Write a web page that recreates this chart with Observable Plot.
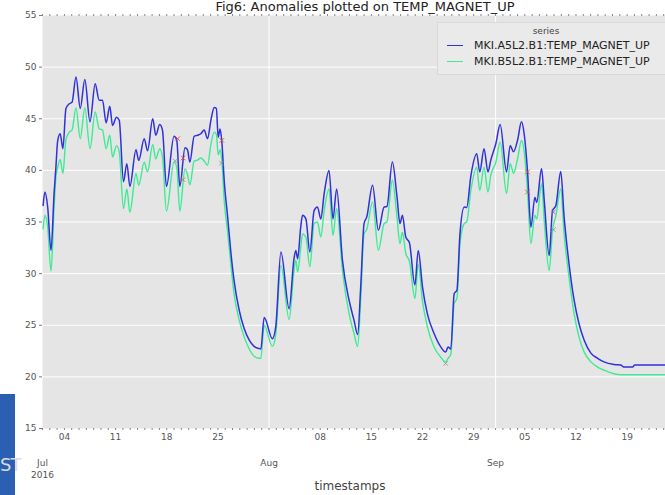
<!DOCTYPE html>
<html><head><meta charset="utf-8">
<script src="https://cdn.jsdelivr.net/npm/d3@7"></script>
<script src="https://cdn.jsdelivr.net/npm/@observablehq/plot@0.6"></script>
<style>
body{margin:0;background:#fff;}
#wrap{position:relative;width:665px;height:495px;overflow:hidden;font-family:"DejaVu Sans",sans-serif;}
#chart{position:absolute;left:0;top:0;}
#title{position:absolute;top:0px;left:0;width:730px;text-align:center;font-size:13px;line-height:14px;color:#222;white-space:nowrap;}
#xlabel{position:absolute;top:479px;left:0;width:700px;text-align:center;font-size:12px;color:#444;}
#legend{position:absolute;left:437px;top:22px;width:240px;height:53px;background:#eaeaea;border:1px solid #d9d9d9;box-sizing:border-box;}
#legend .t{position:absolute;left:0;width:216px;top:3px;text-align:center;font-size:9px;color:#444;}
#legend .row{position:absolute;left:9px;font-size:11px;color:#222;white-space:nowrap;}
#legend .sw{display:inline-block;width:16px;height:0;border-top:1.5px solid;vertical-align:middle;margin-right:11px;position:relative;top:-1px;}
#st{position:absolute;left:0;top:394px;width:15px;height:101px;background:#2a5fb1;}
#sttext{position:absolute;left:0px;top:454px;font-size:18px;color:#d7dbe2;font-family:"DejaVu Sans",sans-serif;letter-spacing:-1px;}
</style></head>
<body>
<div id="wrap">
  <div id="chart"></div>
  <div id="title">Fig6: Anomalies plotted on TEMP_MAGNET_UP</div>
  <div id="legend">
    <div class="t">series</div>
    <div class="row" style="top:16px"><span class="sw" style="border-color:#3030dc"></span>MKI.A5L2.B1:TEMP_MAGNET_UP</div>
    <div class="row" style="top:32px"><span class="sw" style="border-color:#3ceb93"></span>MKI.B5L2.B1:TEMP_MAGNET_UP</div>
  </div>
  <div id="xlabel">timestamps</div>
  <div id="st"></div>
  <div id="sttext">ST</div>
</div>
<script>
// ---- data ----
const stamps = ["07-01 02","07-01 08","07-01 17","07-02 04","07-02 14","07-02 20","07-03 02","07-03 10","07-03 19","07-04 05",
"07-04 16","07-05 01","07-05 14","07-06 04","07-06 19","07-07 12","07-08 05","07-08 18","07-09 05","07-09 17",
"07-10 05","07-10 14","07-11 03","07-11 12","07-12 02","07-12 13","07-12 23","07-13 19","07-14 04","07-14 22",
"07-15 09","07-16 02","07-16 12","07-17 01","07-17 10","07-17 23","07-19 00","07-19 09","07-19 19","07-20 12",
"07-20 20","07-21 04","07-21 18","07-22 05","07-22 16","07-23 03","07-23 14","07-24 01","07-24 12","07-24 19",
"07-25 01","07-25 07","07-25 13","07-25 21","07-26 08","07-26 19","07-27 05","07-27 22","07-28 14","07-29 07",
"07-29 23","07-30 15","07-30 21","07-31 08","08-01 11","08-01 22","08-02 15","08-03 18","08-04 10","08-04 16",
"08-04 22","08-05 08","08-05 14","08-06 01","08-06 14","08-07 04","08-07 15","08-08 02","08-08 13","08-09 05",
"08-09 18","08-10 06","08-11 01","08-11 23","08-12 15","08-13 03","08-13 13","08-14 00","08-14 09","08-15 04",
"08-15 23","08-16 18","08-17 03","08-17 21","08-18 12","08-18 22","08-19 06","08-19 17","08-20 05","08-20 23",
"08-21 10","08-22 00","08-22 16","08-23 14","08-24 12","08-25 04","08-25 12","08-25 21","08-26 08","08-26 17",
"08-27 03","08-27 17","08-28 01","08-28 15","08-29 10","08-29 20","08-30 10","08-30 23","08-31 08","09-01 01",
"09-01 15","09-02 12","09-03 00","09-03 11","09-04 00","09-04 13","09-04 22","09-05 09","09-05 20","09-06 09",
"09-06 15","09-07 07","09-07 16","09-08 08","09-08 19","09-09 06","09-09 22","09-10 09","09-11 01","09-11 18",
"09-12 10","09-13 03","09-14 01","09-14 23","09-15 20","09-17 05","09-18 03","09-18 13","09-19 18","09-20 01",
"09-24 06"];

const a5l2 = [36.6,37.9,36.45,32.25,37.75,40.3,42.9,43.55,42.1,46.0,
46.45,46.6,49.05,46.0,48.8,44.7,48.4,46.8,46.8,44.6,
46.2,44.35,45.15,44.85,38.9,40.65,38.45,42.0,40.97,43.07,
41.9,45.0,43.4,44.45,43.9,38.45,43.3,42.9,38.45,42.2,
42.0,40.8,43.3,43.4,43.55,43.9,43.07,44.85,46.1,46.0,
43.2,44.0,42.75,38.9,35.5,31.95,29.35,26.45,24.7,23.55,
22.95,22.75,22.7,25.75,23.7,24.85,32.1,26.6,31.45,32.25,
31.45,34.5,35.65,35.3,32.1,36.1,36.45,35.3,37.75,40.0,
35.3,38.2,31.3,27.4,25.5,24.1,28.7,34.85,35.5,38.55,
34.2,36.45,36.5,40.8,37.5,34.85,35.65,33.55,33.0,28.9,
32.25,28.7,26.1,24.2,22.9,22.4,22.9,22.7,28.05,28.4,
33.85,36.45,36.4,39.5,41.6,39.85,42.1,39.85,40.97,42.6,
44.45,39.85,42.4,41.8,42.9,44.7,43.5,39.85,34.5,37.4,
36.9,40.15,37.0,31.75,36.1,36.6,39.9,35.5,31.0,27.4,
25.15,23.55,22.3,21.8,21.45,21.2,21.15,20.95,20.95,21.15,
21.15];

const b5l2 = [34.35,35.65,34.5,30.25,36.3,39.35,40.3,41.05,39.7,43.0,
43.7,43.9,46.05,43.07,46.05,42.1,45.65,44.03,43.9,42.1,
43.4,41.3,42.4,41.8,36.3,38.2,35.95,39.7,38.55,40.8,
39.85,42.5,41.1,42.1,41.3,36.05,40.8,40.3,36.05,40.15,
39.6,38.6,40.9,41.0,41.2,40.9,40.5,42.5,43.7,43.5,
41.5,42.0,40.9,37.0,34.0,30.8,28.05,25.5,23.9,22.7,
22.0,21.8,21.8,25.0,22.95,24.1,30.8,25.55,30.3,31.3,
30.15,32.5,33.85,33.5,30.65,34.85,35.0,33.55,36.1,38.2,
33.7,36.3,30.3,26.1,24.2,22.95,27.5,33.85,34.3,36.95,
32.25,34.85,35.0,39.05,35.5,32.9,34.0,31.95,31.2,27.6,
30.9,27.3,24.85,22.9,21.9,21.45,21.8,22.2,27.1,27.6,
32.9,34.85,35.0,38.1,40.3,38.05,40.3,37.9,39.5,40.8,
42.75,37.75,40.65,39.7,41.1,42.9,41.8,37.9,32.9,35.65,
35.3,38.7,35.0,30.3,34.2,35.6,38.2,33.85,29.7,26.1,
23.85,22.4,21.45,20.95,20.65,20.3,20.2,20.2,20.2,20.2,
20.2];

// anomalies flagged on the series
const anomStamps = ["07-19 12","07-19 04","07-20 06","07-20 06","07-25 13","07-25 12","08-25 04","09-05 09","09-05 09","09-08 22","09-08 22"];
const anomValues = [43.07,40.9,41.2,39.1,42.9,40.7,21.3,39.85,37.9,35.95,34.25];
const anomKind   = ["A","B","A","C","A","B","B","A","A","D","B"];

const yTicks = [15,20,25,30,35,40,45,50,55];
const seriesNames = ["MKI.A5L2.B1:TEMP_MAGNET_UP","MKI.B5L2.B1:TEMP_MAGNET_UP"];

// ---- build ----
const parse = d3.utcParse("%Y-%m-%d %H");
const times = stamps.map(s => parse("2016-" + s));
const rows = [];
times.forEach((t,i) => { rows.push({t, v: a5l2[i], s: seriesNames[0]}); rows.push({t, v: b5l2[i], s: seriesNames[1]}); });
const anoms = anomStamps.map((s,i) => ({t: parse("2016-" + s), v: anomValues[i], k: anomKind[i]}));

const t0 = new Date(Date.UTC(2016,6,1));
const t1 = new Date(Date.UTC(2016,8,24,6));
const days = d3.utcDay.range(t0, t1);
const mondays = d3.utcMonday.range(t0, t1).filter(d => d.getUTCDate() !== 1);
const months = d3.utcMonth.range(t0, t1);
const dayFmt = d3.utcFormat("%d");
const monFmt = d => d.getUTCMonth() === 6 ? d3.utcFormat("%b")(d) + "\n" + d.getUTCFullYear() : d3.utcFormat("%b")(d);

const chart = Plot.plot({
  width: 665, height: 495,
  marginLeft: 42, marginRight: 0, marginTop: 15, marginBottom: 67,
  style: {fontFamily: "DejaVu Sans, sans-serif", fontSize: "9px", color: "#555", background: "transparent"},
  x: {type: "utc", domain: [t0, t1]},
  y: {domain: [15, 55]},
  color: {domain: ["A","B","C","D"], range: ["#e8453c","#8a9688","#e0703c","#c0609c"]},
  marks: [
    Plot.frame({fill: "#e5e5e5", stroke: null}),
    Plot.gridY({ticks: yTicks.slice(1, -1), stroke: "#fff", strokeOpacity: 1, strokeWidth: 1}),
    Plot.gridX({ticks: months.slice(1), stroke: "#fff", strokeOpacity: 1, strokeWidth: 1}),
    Plot.axisY({ticks: yTicks, tickSize: 3, tickPadding: 3, label: null, stroke: "#777"}),
    Plot.axisX({ticks: days, tickSize: 2, tickFormat: () => "", label: null, stroke: "#888"}),
    Plot.axisX({anchor: "top", ticks: days, tickSize: 2, tickFormat: () => "", label: null, stroke: "#888"}),
    Plot.axisX({ticks: mondays, tickSize: 0, tickPadding: 5, tickFormat: dayFmt, label: null}),
    Plot.axisX({ticks: months, tickSize: 0, tickPadding: 29, tickFormat: monFmt, label: null, lineHeight: 1.3}),
    Plot.line(rows.filter(d => d.s === seriesNames[1]), {x: "t", y: "v", stroke: "#3ceb93", strokeWidth: 1.4, curve: "monotone-x"}),
    Plot.line(rows.filter(d => d.s === seriesNames[0]), {x: "t", y: "v", stroke: "#3030dc", strokeWidth: 1.5, curve: "monotone-x"}),
    Plot.dot(anoms, {x: "t", y: "v", symbol: "times", r: 2.2, stroke: "k", strokeWidth: 1, strokeOpacity: 0.85})
  ]
});
document.getElementById("chart").appendChild(chart);
</script>
</body></html>
